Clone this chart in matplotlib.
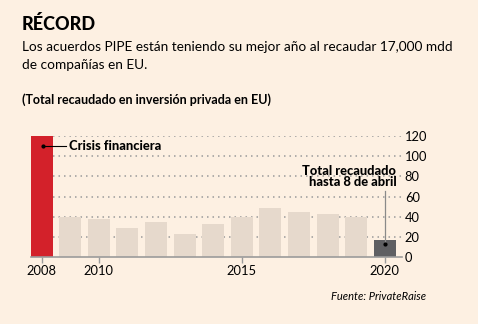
import matplotlib

matplotlib.use("Agg")
import matplotlib.pyplot as plt

years = list(range(2008, 2021))
raised = [120, 40, 38, 29, 35, 23, 33, 40, 49, 45, 43, 40, 17]
bar_colors = ["#d3212a"] + ["#e6d9cc"] * 11 + ["#5f5f62"]
year_ticks = [2008, 2010, 2015, 2020]
value_ticks = [0, 20, 40, 60, 80, 100, 120]

BG = "#fdf0e2"
plt.rcParams["font.family"] = ["Lato", "DejaVu Sans"]

fig = plt.figure(figsize=(4.78, 3.24), dpi=100, facecolor=BG)
ax = fig.add_axes([30.5 / 478, 1 - 257 / 324, (402 - 30.5) / 478, (257 - 136) / 324])
ax.set_facecolor(BG)

ax.bar(years, raised, width=0.77, color=bar_colors, zorder=2)

ax.set_xlim(2008 - 0.385, 2020.6)
ax.set_ylim(0, 120)
for v in value_ticks[1:]:
    ax.axhline(v, color="#9b9b9b", lw=1.1, ls=(0, (1, 2.6)), zorder=1)
for s in ["top", "right", "left"]:
    ax.spines[s].set_visible(False)
ax.spines["bottom"].set_color("#9b9b9b")
ax.spines["bottom"].set_linewidth(1.2)
ax.spines["bottom"].set_zorder(3)

ax.yaxis.tick_right()
ax.set_yticks(value_ticks)
ax.tick_params(axis="y", length=0, pad=2, labelsize=9.3)
ax.set_xticks(year_ticks)
ax.tick_params(axis="x", length=4, width=1, color="#9b9b9b", pad=2, labelsize=9.3)

# callouts
ax.plot([2008.05, 2008.85], [110, 110], color="black", lw=0.8, zorder=4)
ax.plot([2008.05], [110], "o", color="black", ms=2, zorder=4)
ax.text(2008.95, 110, "Crisis financiera", fontsize=9.3, fontweight="black",
        va="center", ha="left")
ax.plot([2020, 2020], [65, 13], color="#8a8a8a", lw=0.9, zorder=4)
ax.plot([2020], [13], "o", color="black", ms=2, zorder=5)
ax.text(2020.4, 68, "Total recaudado\nhasta 8 de abril", fontsize=9.3,
        fontweight="black", ha="right", va="bottom", linespacing=0.95)

fig.text(22 / 478, 1 - 30 / 324, "RÉCORD", fontsize=13, fontweight="black", va="baseline")
fig.text(22 / 478, 1 - 51 / 324,
         "Los acuerdos PIPE están teniendo su mejor año al recaudar 17,000 mdd",
         fontsize=9.8, va="baseline")
fig.text(22 / 478, 1 - 69 / 324, "de compañías en EU.", fontsize=9.8, va="baseline")
fig.text(22 / 478, 1 - 104 / 324, "(Total recaudado en inversión privada en EU)",
         fontsize=9, fontweight="bold", va="baseline")
fig.text(426 / 478, 1 - 300 / 324, "Fuente: PrivateRaise", fontsize=8,
         style="italic", ha="right", va="baseline")

fig.savefig("out.png", dpi=100, facecolor=BG)
